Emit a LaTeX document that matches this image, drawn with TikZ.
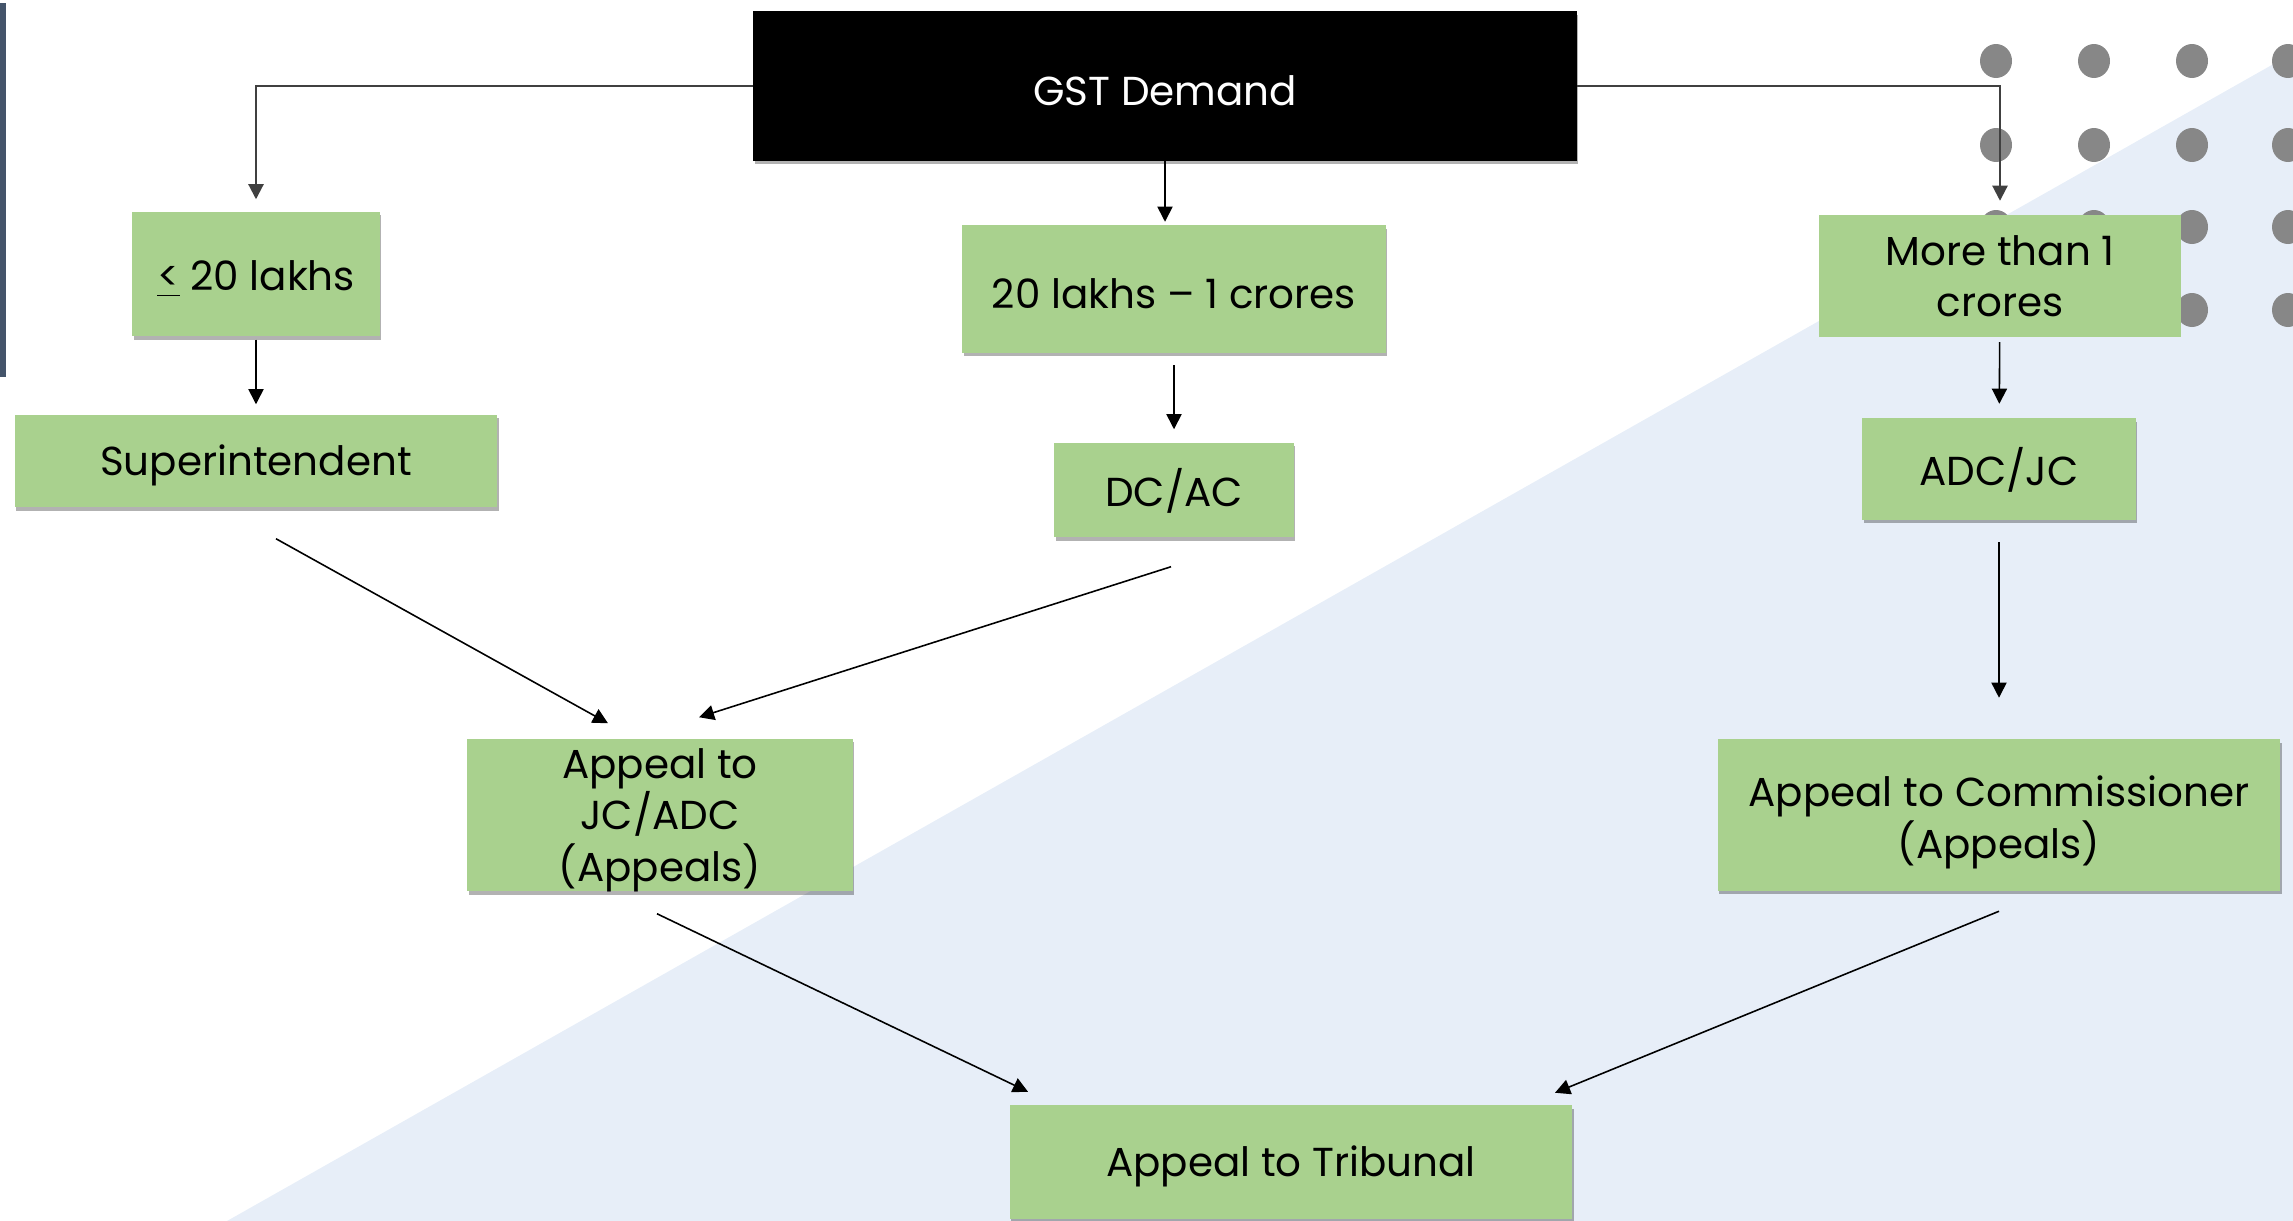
\documentclass[tikz,border=0pt]{standalone}
\usepackage{fontspec}
\setmainfont{Poppins}
\usetikzlibrary{arrows.meta,shadows,calc}

\definecolor{boxgreen}{HTML}{A9D18E}
\definecolor{bgblue}{HTML}{E7EEF8}
\definecolor{dotgrey}{HTML}{878787}
\definecolor{barslate}{HTML}{44546A}
\definecolor{elbowgrey}{HTML}{404040}

\newcommand\boxfont{\fontsize{11.5}{14.6}\selectfont}

\tikzset{
  plainbox/.style={fill=boxgreen, draw=none, align=center, inner sep=0pt,
    font=\boxfont, text=black,
    execute at begin node={\rule{0pt}{11.3pt}}},
  box/.style={plainbox,
    drop shadow={shadow xshift=0.015cm, shadow yshift=-0.035cm, opacity=0.3, fill=black}},
  flow/.style={draw=black, line width=0.45pt, -{Triangle[length=4.3pt,width=4.3pt]}},
  elbow/.style={flow, draw=elbowgrey, line width=0.6pt},
  dot/.style={fill=dotgrey, draw=none},
}

\begin{document}
\begin{tikzpicture}[x=0.01cm, y=-0.01cm]
  \useasboundingbox (0,0) rectangle (2293,1221);
  \clip (0,0) rectangle (2293,1221);

  % backdrop
  \fill[bgblue] (227,1221) -- (2293,53) -- (2293,1221) -- cycle;
  \fill[barslate] (0,3) rectangle (6,377);
  \foreach \dx in {1996,2094,2192,2288}
    \foreach \dy in {61,145,227,310}
      \fill[dot] (\dx,\dy) ellipse [x radius=16, y radius=17];

  % boxes
  \node[box, fill=black, text=white, minimum width=8.23cm, minimum height=1.49cm]
    (gst) at (1165,86) {GST Demand};
  \node[box, minimum width=2.47cm, minimum height=1.24cm]
    (le20) at (256,274) {\underline{<} 20 lakhs};
  \node[box, minimum width=4.82cm, minimum height=0.92cm]
    (sup) at (256,461) {Superintendent};
  \node[box, minimum width=4.23cm, minimum height=1.27cm]
    (mid) at (1174,289) {20 lakhs – 1 crores};
  \node[box, minimum width=2.39cm, minimum height=0.94cm]
    (dcac) at (1174,490) {DC/AC};
  \node[plainbox, minimum width=3.61cm, minimum height=1.21cm]
    (more) at (2000,276) {More than 1\\crores};
  \node[box, minimum width=2.73cm, minimum height=1.01cm]
    (adcjc) at (1999,469) {ADC/JC};
  \node[box, minimum width=5.62cm, minimum height=1.51cm]
    (acom) at (1999,815) {\rule{0pt}{13pt}Appeal to Commissioner\\(Appeals)};
  \node[box, minimum width=3.85cm, minimum height=1.52cm]
    (ajc) at (660,815) {Appeal to\\JC/ADC\\\smash{(Appeals)}};
  \node[box, minimum width=5.62cm, minimum height=1.13cm]
    (trib) at (1291,1162) {Appeal to Tribunal};

  % branches out of the demand box
  \draw[elbow] (gst.west) -| ($(le20.north)+(0,-12)$);
  \draw[elbow] (gst.east) -| ($(more.north)+(0,-14)$);
  \draw[flow, shorten >=0.03cm] (gst.south) -- (gst.south |- mid.north);

  % down to the adjudicating officers
  \draw[flow, shorten <=0.03cm, shorten >=0.10cm] (le20) -- (sup);
  \draw[flow, shorten <=0.12cm, shorten >=0.13cm] (mid) -- (dcac);
  \draw[flow, shorten <=0.05cm, shorten >=0.14cm] (more) -- (adcjc);
  \draw[flow, shorten <=0.22cm, shorten >=0.41cm] (adcjc) -- (acom);

  % first appeals
  \draw[flow] ($(sup.south)+(20,31)$) -- ($(ajc.north)+(-52,-15)$);
  \draw[flow] ($(dcac.south)+(-3,29)$) -- ($(ajc.north)+(39,-21)$);

  % second appeals
  \draw[flow] ($(ajc.south)+(-3,22)$) -- ($(trib.north)+(-263,-13)$);
  \draw[flow] ($(acom.south)+(0,20)$) -- ($(trib.north)+(264,-12)$);
\end{tikzpicture}
\end{document}
